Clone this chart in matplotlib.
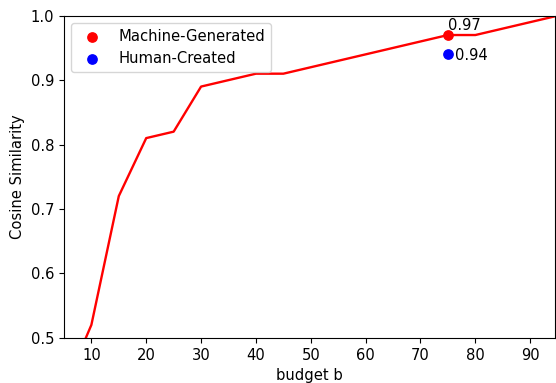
import matplotlib
matplotlib.use("Agg")
import matplotlib.pyplot as plt

budget = [5, 10, 15, 20, 25, 30, 40, 45, 75, 80, 95]
similarity = [0.42, 0.52, 0.72, 0.81, 0.82, 0.89, 0.91, 0.91, 0.97, 0.97, 1.0]
machine_x, machine_y = [75], [0.97]
human_x, human_y = [75], [0.94]

plt.rcParams["font.size"] = 10.6

fig = plt.figure(figsize=(5.56, 3.83), dpi=100)
ax = fig.add_axes([0.115, 0.118, 0.884, 0.841])
ax.plot(budget, similarity, color="red", linewidth=1.7)
ax.scatter(machine_x, machine_y, color="red", s=45, zorder=3, label="Machine-Generated")
ax.scatter(human_x, human_y, color="blue", s=45, zorder=3, label="Human-Created")
ax.annotate(f"{machine_y[0]:.2f}", (machine_x[0], machine_y[0]), xytext=(0, 1.5),
            textcoords="offset points", ha="left", va="bottom")
ax.annotate(f"{human_y[0]:.2f}", (human_x[0], human_y[0]), xytext=(5, -1),
            textcoords="offset points", ha="left", va="center")
ax.set_xlim(5, 94.6)
ax.set_ylim(0.5, 1.0)
ax.set_xticks([10, 20, 30, 40, 50, 60, 70, 80, 90])
ax.set_yticks([0.5, 0.6, 0.7, 0.8, 0.9, 1.0])
ax.set_xlabel("budget b")
ax.set_ylabel("Cosine Similarity")
ax.legend(loc="upper left")
fig.savefig("out.png", dpi=100)
